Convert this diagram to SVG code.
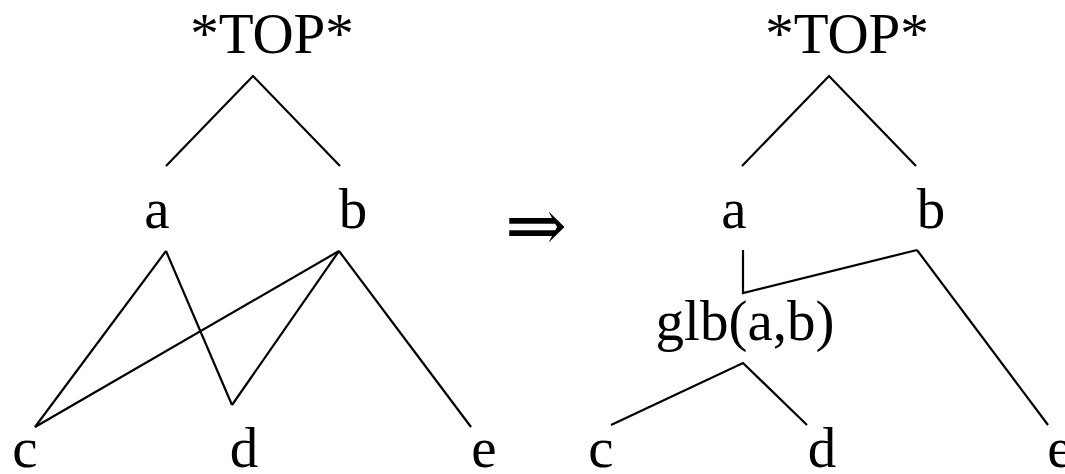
<svg xmlns="http://www.w3.org/2000/svg" width="1065" height="474" viewBox="0 0 1065 474">
<style>
  .lbl { font-family: "Liberation Serif", "Times New Roman", serif; font-size: 57px; fill: #000; text-anchor: middle; }
  .sym { font-family: "DejaVu Serif", "Liberation Serif", serif; font-size: 74px; fill: #000; text-anchor: middle; }
  .edge { stroke: #000; stroke-width: 2.2; fill: none; stroke-linecap: butt; stroke-linejoin: miter; }
</style>
<rect width="1065" height="474" fill="#fff"/>
<g id="connectors">
  <polyline class="edge" points="166,166 253,76 340,166"/>
  <line class="edge" x1="166" y1="251" x2="35" y2="427"/>
  <line class="edge" x1="166" y1="251" x2="232" y2="405"/>
  <line class="edge" x1="339" y1="251" x2="35" y2="427"/>
  <line class="edge" x1="339" y1="251" x2="232" y2="405"/>
  <line class="edge" x1="339" y1="251" x2="471" y2="427"/>
  <polyline class="edge" points="742,166 829,76 916,166"/>
  <polyline class="edge" points="743,250 743,293 917,250"/>
  <line class="edge" x1="917" y1="250" x2="1048" y2="425"/>
  <polyline class="edge" points="611,425 743,363 807,425"/>
</g>
<g id="left-top"><text class="lbl" x="272" y="53">*TOP*</text></g>
<g id="left-a"><text class="lbl" x="157" y="228">a</text></g>
<g id="left-b"><text class="lbl" x="353" y="228">b</text></g>
<g id="left-c"><text class="lbl" x="25" y="467">c</text></g>
<g id="left-d"><text class="lbl" x="244" y="467">d</text></g>
<g id="left-e"><text class="lbl" x="484" y="467">e</text></g>
<g id="arrow"><text class="sym" x="536" y="251">⇒</text></g>
<g id="right-top"><text class="lbl" x="847" y="53">*TOP*</text></g>
<g id="right-a"><text class="lbl" x="734" y="228">a</text></g>
<g id="right-b"><text class="lbl" x="931" y="228">b</text></g>
<g id="right-glb"><text class="lbl" x="745" y="340">glb(a,b)</text></g>
<g id="right-c"><text class="lbl" x="601" y="467">c</text></g>
<g id="right-d"><text class="lbl" x="822" y="467">d</text></g>
<g id="right-e"><text class="lbl" x="1060" y="467">e</text></g>
</svg>
